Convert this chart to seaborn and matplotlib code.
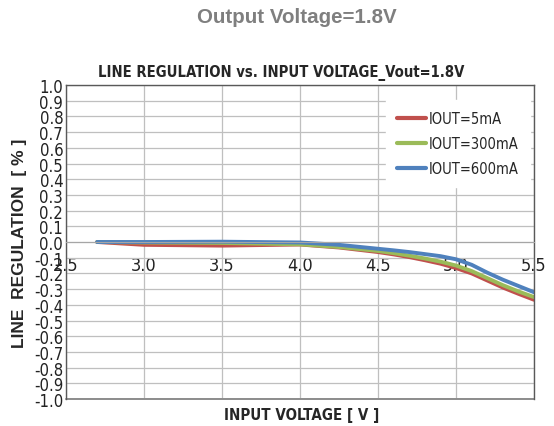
import numpy as np
import matplotlib.pyplot as plt
import seaborn as sns
import pandas as pd

vin = [2.7, 3.0, 3.5, 4.0, 4.25, 4.5, 4.6, 4.7, 4.8, 4.9, 5.0, 5.1, 5.2, 5.3, 5.4, 5.5]
reg_5ma = [0.0, -0.018, -0.023, -0.016, -0.035, -0.064, -0.079, -0.096, -0.116,
           -0.138, -0.166, -0.2, -0.245, -0.29, -0.33, -0.368]
reg_300ma = [0.0, -0.003, -0.006, -0.015, -0.032, -0.057, -0.071, -0.087, -0.105,
             -0.125, -0.15, -0.185, -0.23, -0.275, -0.315, -0.351]
reg_600ma = [0.0, 0.0, 0.002, -0.003, -0.018, -0.043, -0.053, -0.064, -0.077,
             -0.09, -0.11, -0.145, -0.195, -0.24, -0.28, -0.32]
series = ["IOUT=5mA", "IOUT=300mA", "IOUT=600mA"]
colors = ["#C0504D", "#9BBB59", "#4F81BD"]
xticks = [2.5, 3.0, 3.5, 4.0, 4.5, 5.0, 5.5]
yticks = [round(-1.0 + 0.1 * i, 1) for i in range(21)]

df = pd.concat([
    pd.DataFrame({"vin": vin, "reg": r, "load": s})
    for s, r in zip(series, [reg_5ma, reg_300ma, reg_600ma])
])

sns.set_style("white")
plt.rcParams["font.family"] = ["DejaVu Sans"]
plt.rcParams["font.stretch"] = "condensed"

fig = plt.figure(figsize=(5.54, 4.27), dpi=100)
ax = fig.add_axes([0.119, 0.0632, 0.845, 0.7354])

sns.lineplot(data=df, x="vin", y="reg", hue="load", palette=colors,
             linewidth=2.8, ax=ax)

# x axis crosses at 0 like the Excel original (do this before tick labels)
ax.spines["bottom"].set_position(("data", 0))
ax.spines["bottom"].set_color("#a6a6a6")
for s in ["left", "top", "right"]:
    ax.spines[s].set_color("#595959")
    ax.spines[s].set_linewidth(1.0)

ax.set_xlim(2.5, 5.5)
ax.set_ylim(-1.0, 1.0)
ax.set_xticks(xticks)
ax.set_yticks(yticks)
ax.set_xticklabels([f"{v:.1f}" for v in xticks], fontsize=13, color="#222222")
ax.set_yticklabels([f"{v:.1f}" for v in yticks], fontsize=12, color="#222222")
ax.tick_params(axis="y", length=0, pad=2)
ax.tick_params(axis="x", length=0, pad=10)
ax.grid(True, color="#bfbfbf", linewidth=0.9)
ax.set_axisbelow(True)
ax.axhline(-1.0, color="#8c8c8c", linewidth=1.4, clip_on=False)

ax.set_xlabel("")
ax.set_ylabel("")
fig.text(0.545, 0.026, "INPUT VOLTAGE [ V ]", ha="center", va="center",
         fontsize=10.8, fontweight="bold")
fig.text(0.036, 0.43, "LINE  REGULATION  [ % ]", ha="center", va="center",
         rotation=90, fontsize=12.5, fontweight="bold",
         family="Liberation Sans", stretch="normal")
fig.text(0.507, 0.829, "LINE REGULATION vs. INPUT VOLTAGE_Vout=1.8V", ha="center",
         va="center", fontsize=10.6, fontweight="bold")
fig.text(0.536, 0.96, "Output Voltage=1.8V", ha="center", va="center",
         fontsize=14.8, fontweight="bold", color="#7f7f7f",
         family="Liberation Sans", stretch="normal")

leg = ax.legend(loc="upper left", bbox_to_anchor=(0.668, 0.975), frameon=True,
                fontsize=10.5, handlelength=2.0, handletextpad=0.2,
                labelspacing=0.7, borderpad=0.75)
leg.get_frame().set_edgecolor("white")
leg.get_frame().set_facecolor("white")
leg.get_frame().set_alpha(1)
leg.get_frame().set_boxstyle("square", pad=0)
for line in leg.get_lines():
    line.set_linewidth(3.0)

fig.savefig("out.png", dpi=100)
